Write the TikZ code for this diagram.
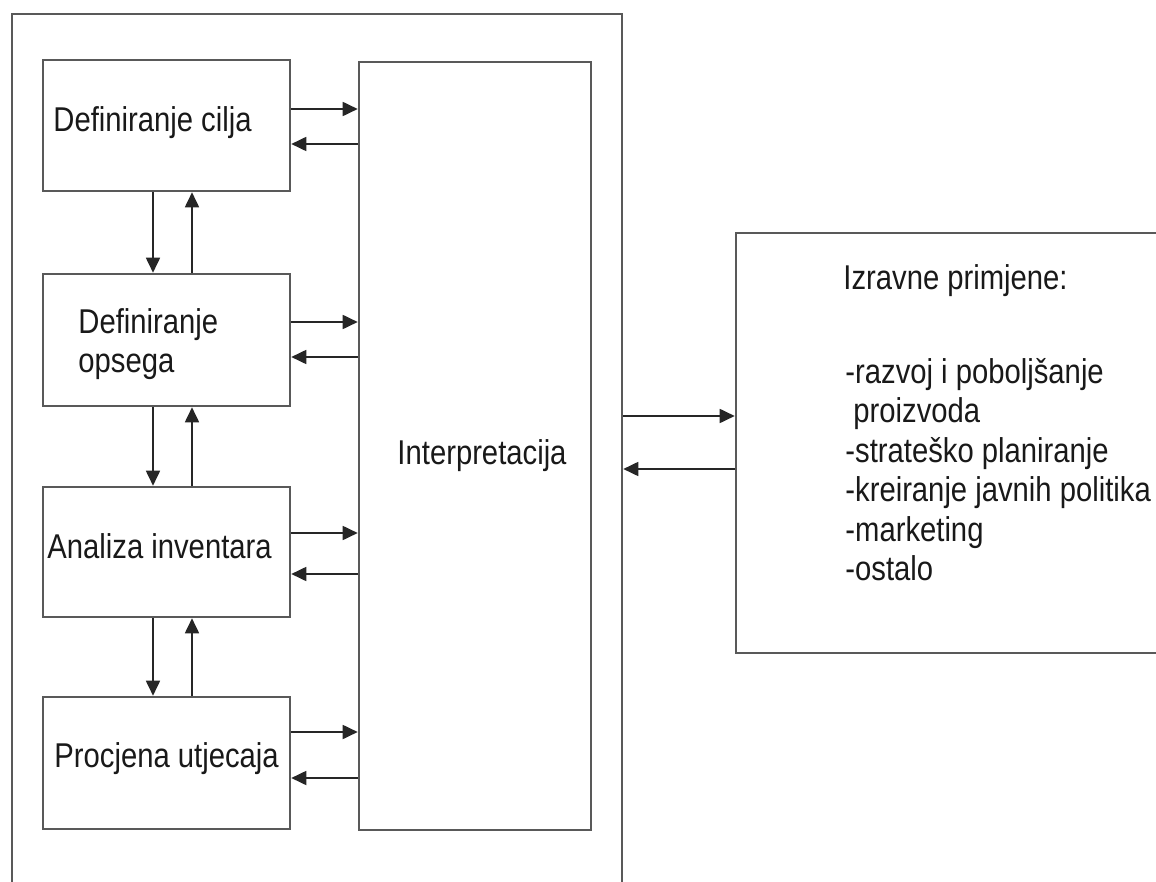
\documentclass[tikz,border=0pt]{standalone}
\usepackage{fontspec}
\setmainfont{Liberation Sans}[FakeStretch=0.85]
\usetikzlibrary{arrows.meta, calc}

\begin{document}
\begin{tikzpicture}[x=0.5pt,y=-0.5pt,
	box/.style={draw=black!65, line width=1.3pt, minimum width=123.5pt, minimum height=65.5pt, inner sep=0pt},
	txt/.style={inner sep=0pt, font=\fontsize{17.2}{19.75}\selectfont, text=black!90},
	arr/.style={-{Triangle[length=7.5pt,width=7pt]}, line width=0.9pt, black!85}]

	\useasboundingbox[fill=white] (0,0) rectangle (1156,882);

	% frame round the phases
	\node[box, minimum width=305pt, minimum height=443pt] (okvir) at (317,457) {};

	\node[box] (cilj) at (166.5,125.5) {};
	\node[box, minimum height=66pt] (opseg) at (166.5,340) {};
	\node[box, minimum height=65pt] (inv) at (166.5,552) {};
	\node[box, minimum height=66pt] (utj) at (166.5,763) {};
	\node[box, minimum width=116pt, minimum height=384pt] (interp) at (475,446) {};
	\node[box, minimum width=222pt, minimum height=210pt] (prim) at (958,443) {};

	\node[txt, anchor=base west] (tcilj) at (53,132) {Definiranje cilja};
	\node[txt, anchor=north west, align=left] (topseg) at (78,308) {Definiranje\\opsega};
	\node[txt, anchor=base west] (tinv) at (47,558) {Analiza inventara};
	\node[txt, anchor=base west] (tutj) at (54,767) {Procjena utjecaja};
	\node[txt, anchor=base] (tinterp) at (482,464) {Interpretacija};
	\node[txt, anchor=base west] (tprim) at (843,290) {Izravne primjene:};
	\node[txt, anchor=north west, align=left] (tlist) at (845,358) {-razvoj i poboljšanje\\\hspace*{4pt}proizvoda\\-strateško planiranje\\-kreiranje javnih politika\\-marketing\\-ostalo};

	% phases <-> interpretacija
	\draw[arr] (cilj.east |- 0,109) -- (interp.west |- 0,109);
	\draw[arr] (interp.west |- 0,144) -- (cilj.east |- 0,144);
	\draw[arr] (opseg.east |- 0,322) -- (interp.west |- 0,322);
	\draw[arr] (interp.west |- 0,357) -- (opseg.east |- 0,357);
	\draw[arr] (inv.east |- 0,533) -- (interp.west |- 0,533);
	\draw[arr] (interp.west |- 0,574) -- (inv.east |- 0,574);
	\draw[arr] (utj.east |- 0,732) -- (interp.west |- 0,732);
	\draw[arr] (interp.west |- 0,778) -- (utj.east |- 0,778);

	% between phases
	\draw[arr] (cilj.south -| 153,0) -- (opseg.north -| 153,0);
	\draw[arr] (opseg.north -| 192,0) -- (cilj.south -| 192,0);
	\draw[arr] (opseg.south -| 153,0) -- (inv.north -| 153,0);
	\draw[arr] (inv.north -| 192,0) -- (opseg.south -| 192,0);
	\draw[arr] (inv.south -| 153,0) -- (utj.north -| 153,0);
	\draw[arr] (utj.north -| 192,0) -- (inv.south -| 192,0);

	% frame <-> primjene
	\draw[arr] (okvir.east |- 0,416) -- (prim.west |- 0,416);
	\draw[arr] (prim.west |- 0,469) -- (okvir.east |- 0,469);
\end{tikzpicture}
\end{document}
